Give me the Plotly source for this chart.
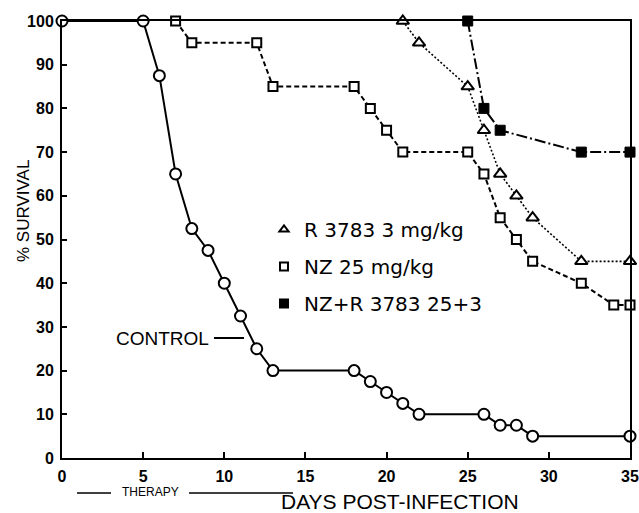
import plotly.graph_objects as go

# ---- data ----
ctrl_days = [0, 5, 6, 7, 8, 9, 10, 11, 12, 13, 18, 19, 20, 21, 22, 26, 27, 28, 29, 35]
ctrl_surv = [100, 100, 87.5, 65, 52.5, 47.5, 40, 32.5, 25, 20, 20, 17.5, 15, 12.5, 10, 10, 7.5, 7.5, 5, 5]

nz_days = [7, 8, 12, 13, 18, 19, 20, 21, 25, 26, 27, 28, 29, 32, 34, 35]
nz_surv = [100, 95, 95, 85, 85, 80, 75, 70, 70, 65, 55, 50, 45, 40, 35, 35]

r_days = [21, 22, 25, 26, 27, 28, 29, 32, 35]
r_surv = [100, 95, 85, 75, 65, 60, 55, 45, 45]

combo_days = [25, 26, 27, 32, 35]
combo_surv = [100, 80, 75, 70, 70]

x_ticks = [0, 5, 10, 15, 20, 25, 30, 35]
y_ticks = [0, 10, 20, 30, 40, 50, 60, 70, 80, 90, 100]

legend_names = ["R 3783 3 mg/kg", "NZ 25 mg/kg", "NZ+R 3783 25+3"]

# ---- layout geometry (pixels) ----
W, H = 639, 513
ML, MR, MT, MB = 62, 9, 21, 55
PW = W - ML - MR
PH = H - MT - MB


def px(xa):
    return (xa - ML) / PW


def py(ya):
    return (H - MB - ya) / PH


SANS = "Liberation Sans, Arial, sans-serif"
WIDE = "DejaVu Sans, Verdana, sans-serif"

fig = go.Figure()

fig.add_trace(go.Scatter(
    x=ctrl_days, y=ctrl_surv, mode="lines+markers", showlegend=False,
    line=dict(color="black", width=2),
    marker=dict(symbol="circle", size=11, color="white", line=dict(color="black", width=2)),
    cliponaxis=False,
))
fig.add_trace(go.Scatter(
    x=nz_days, y=nz_surv, mode="lines+markers", showlegend=False,
    line=dict(color="black", width=2, dash="5px,3px"),
    marker=dict(symbol="square", size=9, color="white", line=dict(color="black", width=2)),
    cliponaxis=False,
))
fig.add_trace(go.Scatter(
    x=r_days, y=r_surv, mode="lines+markers", showlegend=False,
    line=dict(color="black", width=1.6, dash="2px,2px"),
    marker=dict(symbol="triangle-up", size=11, color="white", line=dict(color="black", width=2)),
    cliponaxis=False,
))
fig.add_trace(go.Scatter(
    x=combo_days, y=combo_surv, mode="lines+markers", showlegend=False,
    line=dict(color="black", width=2, dash="11px,3px,2px,3px"),
    marker=dict(symbol="square", size=10, color="black", line=dict(color="black", width=1)),
    cliponaxis=False,
))

# legend entries (markers only)
legend_symbols = ["triangle-up", "square", "square"]
legend_fill = ["white", "white", "black"]
for i, (nm, sym, fc) in enumerate(zip(legend_names, legend_symbols, legend_fill)):
    fig.add_trace(go.Scatter(
        x=[None], y=[None], mode="markers", name=nm, legendgroup=f"g{i}",
        marker=dict(symbol=sym, size=8, color=fc, line=dict(color="black", width=2)),
    ))

axis_font = dict(family=SANS, size=16, color="black", weight="bold")

fig.update_layout(
    width=W, height=H,
    margin=dict(l=ML, r=MR, t=MT, b=MB, pad=0, autoexpand=False),
    paper_bgcolor="white", plot_bgcolor="white",
    showlegend=True,
    legend=dict(
        x=px(264), y=py(210), xanchor="left", yanchor="top",
        font=dict(family=WIDE, size=20, color="black"),
        bgcolor="rgba(0,0,0,0)", borderwidth=0,
        traceorder="grouped", tracegroupgap=8,
        itemwidth=30,
    ),
    xaxis=dict(
        range=[0, 35], tickvals=x_ticks, ticktext=[str(v) for v in x_ticks],
        ticks="inside", ticklen=6, tickwidth=2, tickcolor="black",
        showline=True, linecolor="black", linewidth=2, mirror=True, automargin=False,
        showgrid=False, zeroline=False, tickfont=axis_font, ticklabelstandoff=3,
    ),
    yaxis=dict(
        range=[0, 100], tickvals=y_ticks, ticktext=[str(v) for v in y_ticks],
        ticks="inside", ticklen=5, tickwidth=2, tickcolor="black",
        showline=True, linecolor="black", linewidth=2, mirror=True, automargin=False,
        showgrid=False, zeroline=False, tickfont=axis_font, ticklabelstandoff=3,
    ),
)

annotations = [
    dict(text="% SURVIVAL", x=px(23), y=py(211), textangle=-90,
         font=dict(family=SANS, size=17, color="black")),
    dict(text="DAYS POST-INFECTION", x=px(400), y=py(502),
         font=dict(family=SANS, size=21, color="black")),
    dict(text="THERAPY", x=px(150), y=py(492),
         font=dict(family=SANS, size=12, color="black")),
    dict(text="CONTROL", x=px(211), y=py(338), xanchor="right",
         font=dict(family=SANS, size=19, color="black")),
]
for a in annotations:
    a.update(xref="paper", yref="paper", showarrow=False)
    a.setdefault("xanchor", "center")
    a["yanchor"] = "middle"
fig.update_layout(annotations=annotations)

shapes = [
    dict(x0=px(77), x1=px(111), y0=py(493), y1=py(493), width=1.5),
    dict(x0=px(189), x1=px(293), y0=py(493), y1=py(493), width=1.5),
    dict(x0=px(214), x1=px(244), y0=py(338), y1=py(338), width=2),
]
fig.update_layout(shapes=[
    dict(type="line", xref="paper", yref="paper", x0=s["x0"], x1=s["x1"],
         y0=s["y0"], y1=s["y1"], line=dict(color="black", width=s["width"]))
    for s in shapes
])

fig.write_html(
    "out.html",
    config={"displayModeBar": False},
    post_script=(
        "document.body.style.margin='0px';"
        "document.body.style.overflow='hidden';"
        "document.documentElement.style.overflow='hidden';"
    ),
)
